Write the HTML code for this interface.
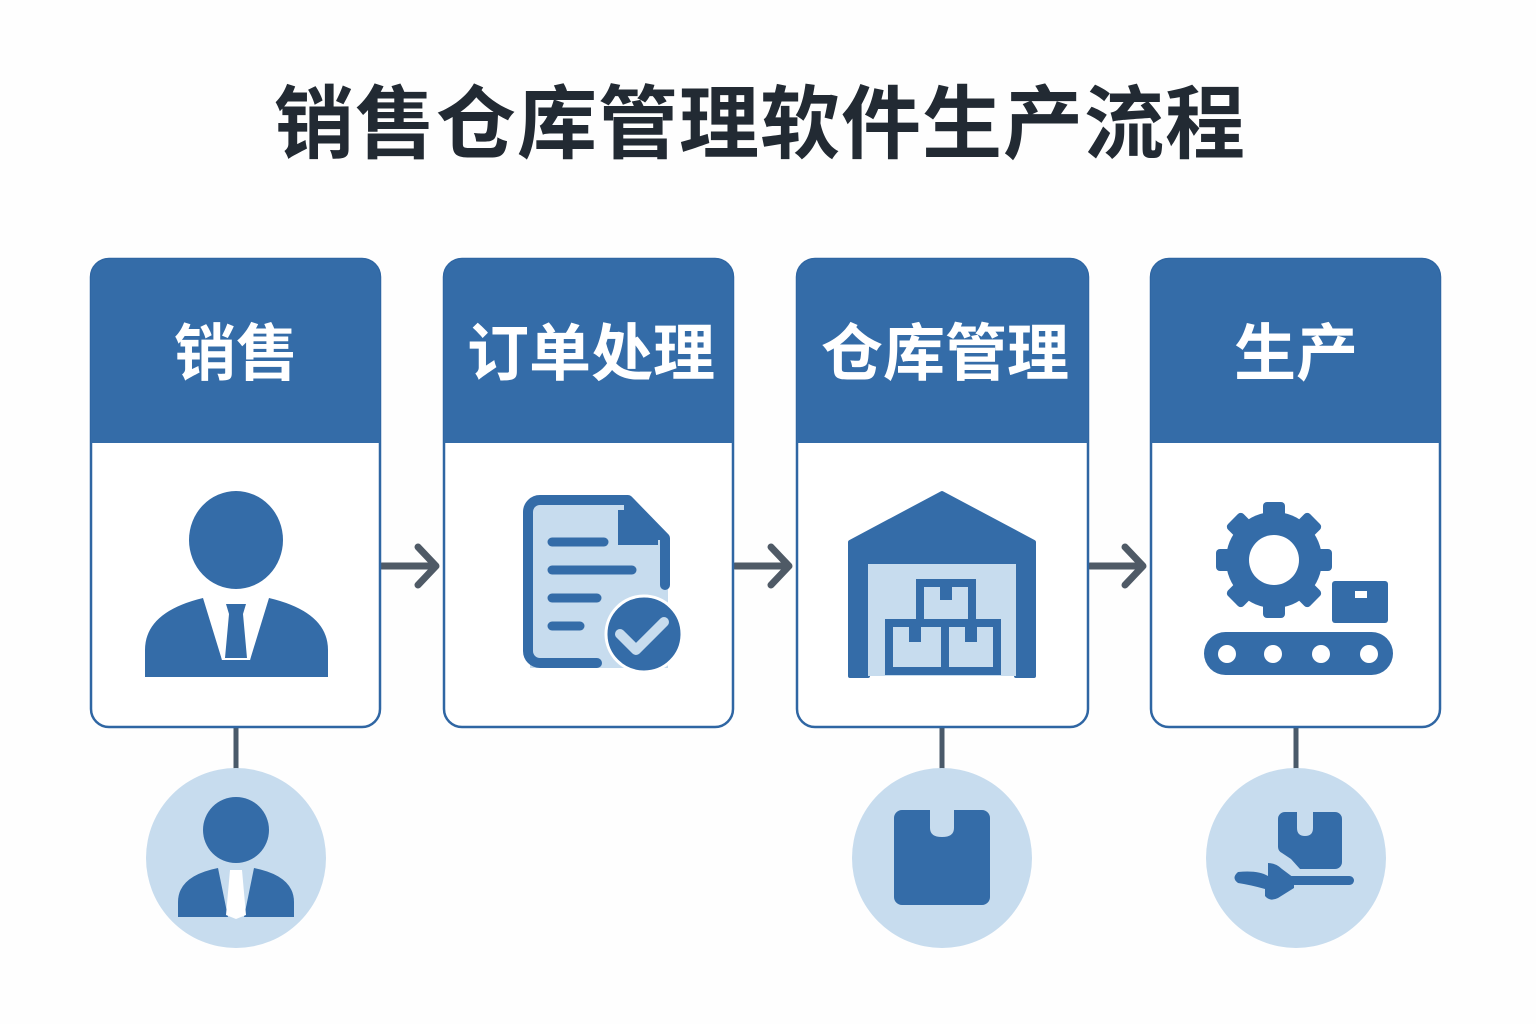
<!DOCTYPE html>
<html><head><meta charset="utf-8"><style>
html,body{margin:0;padding:0;background:#fff}
svg{display:block}
text{font-family:"Liberation Sans","Noto Sans CJK SC",sans-serif;font-weight:bold}
</style></head><body>
<svg width="1536" height="1024" viewBox="0 0 1536 1024" xmlns="http://www.w3.org/2000/svg">
<rect width="1536" height="1024" fill="#fefefe"/>
<text x="760" y="152" font-size="80" fill="#222a33" text-anchor="middle" letter-spacing="1">销售仓库管理软件生产流程</text>

<!-- connectors -->
<g stroke="#4a5a6a" stroke-width="5">
<line x1="236" y1="727" x2="236" y2="772"/>
<line x1="942" y1="727" x2="942" y2="772"/>
<line x1="1296" y1="727" x2="1296" y2="772"/>
</g>
<g stroke="#4f5a66" stroke-width="7" fill="none" stroke-linecap="round" stroke-linejoin="round">
<line x1="382" y1="566" x2="434" y2="566"/><polyline points="418,547 436,566 418,585"/>
<line x1="735" y1="566" x2="787" y2="566"/><polyline points="771,547 789,566 771,585"/>
<line x1="1090" y1="566" x2="1141" y2="566"/><polyline points="1125,547 1143,566 1125,585"/>
</g>

<!-- cards -->
<g>
<rect x="91" y="259" width="289" height="468" rx="18" fill="#fff" stroke="#2f66a3" stroke-width="2.5"/>
<path d="M91,443 V277 a18,18 0 0 1 18,-18 H362 a18,18 0 0 1 18,18 V443 Z" fill="#346ca8"/>
<text x="236" y="375" font-size="62" fill="#fff" text-anchor="middle">销售</text>

<rect x="444" y="259" width="289" height="468" rx="18" fill="#fff" stroke="#2f66a3" stroke-width="2.5"/>
<path d="M444,443 V277 a18,18 0 0 1 18,-18 H715 a18,18 0 0 1 18,18 V443 Z" fill="#346ca8"/>
<text x="591" y="375" font-size="62" fill="#fff" text-anchor="middle">订单处理</text>

<rect x="797" y="259" width="291" height="468" rx="18" fill="#fff" stroke="#2f66a3" stroke-width="2.5"/>
<path d="M797,443 V277 a18,18 0 0 1 18,-18 H1070 a18,18 0 0 1 18,18 V443 Z" fill="#346ca8"/>
<text x="945" y="375" font-size="62" fill="#fff" text-anchor="middle">仓库管理</text>

<rect x="1151" y="259" width="289" height="468" rx="18" fill="#fff" stroke="#2f66a3" stroke-width="2.5"/>
<path d="M1151,443 V277 a18,18 0 0 1 18,-18 H1422 a18,18 0 0 1 18,18 V443 Z" fill="#346ca8"/>
<text x="1296" y="375" font-size="62" fill="#fff" text-anchor="middle">生产</text>
</g>

<!-- person icon -->
<g fill="#346ca8">
<ellipse cx="236" cy="540" rx="47" ry="49"/>
<path d="M145,677 V650 q0,-38 58,-52 L222,660 L250,660 L269,598 q59,14 59,52 V677 Z"/>
<path d="M208,600 L222,660 L250,660 L264,600 L250,600 L242,605 L230,605 L222,600Z" fill="#fff"/>
<path d="M226,604 h20 l-3,10 l4,44 h-22 l4,-44z" fill="#346ca8"/>
</g>

<!-- document icon -->
<g>
<path d="M530,500 H632 L668,536 V668 H530 Z" fill="#c7dcee"/>
<path d="M623,510 V540 H658" fill="none" stroke="#346ca8" stroke-width="10"/>
<path d="M597,663 H540 a12,12 0 0 1 -12,-12 V512 a12,12 0 0 1 12,-12 H628 L665,538 V585" fill="none" stroke="#346ca8" stroke-width="10" stroke-linecap="round" stroke-linejoin="round"/>
<path d="M624,502 L665,540 L624,540 Z" fill="#346ca8"/>
<g stroke="#346ca8" stroke-width="9" stroke-linecap="round">
<line x1="552" y1="542" x2="604" y2="542"/>
<line x1="552" y1="570" x2="632" y2="570"/>
<line x1="552" y1="598" x2="597" y2="598"/>
<line x1="552" y1="626" x2="580" y2="626"/>
</g>
<circle cx="644" cy="634" r="38" fill="#346ca8" stroke="#fff" stroke-width="3"/>
<polyline points="620,634 636,650 664,622" fill="none" stroke="#c7dcee" stroke-width="10" stroke-linecap="round" stroke-linejoin="round"/>
</g>

<!-- warehouse -->
<g>
<path d="M850,676 V542 L942,493 L1034,542 V676 H1016 V564 H868 V676 Z" fill="#346ca8" stroke="#346ca8" stroke-width="4" stroke-linejoin="round"/>
<rect x="868" y="564" width="148" height="112" fill="#c7dcee"/>
<rect x="920" y="583" width="52" height="40" fill="#c7dcee" stroke="#346ca8" stroke-width="8"/>
<rect x="889" y="623" width="56" height="48" fill="#c7dcee" stroke="#346ca8" stroke-width="8"/>
<rect x="945" y="623" width="52" height="48" fill="#c7dcee" stroke="#346ca8" stroke-width="8"/>
<g fill="#346ca8"><rect x="940" y="586" width="12" height="14"/><rect x="909" y="626" width="12" height="16"/><rect x="965" y="626" width="12" height="16"/></g>
</g>

<!-- gear + conveyor -->
<g fill="#346ca8">
<g transform="translate(1274,560)">
<circle r="48"/>
<g>
<rect x="-11" y="-58" width="22" height="22" rx="4"/>
<rect x="-11" y="-58" width="22" height="22" rx="4" transform="rotate(45)"/>
<rect x="-11" y="-58" width="22" height="22" rx="4" transform="rotate(90)"/>
<rect x="-11" y="-58" width="22" height="22" rx="4" transform="rotate(135)"/>
<rect x="-11" y="-58" width="22" height="22" rx="4" transform="rotate(180)"/>
<rect x="-11" y="-58" width="22" height="22" rx="4" transform="rotate(225)"/>
<rect x="-11" y="-58" width="22" height="22" rx="4" transform="rotate(270)"/>
<rect x="-11" y="-58" width="22" height="22" rx="4" transform="rotate(315)"/>
</g>
<circle r="25" fill="#fff"/>
</g>
<rect x="1332" y="581" width="56" height="42" rx="3"/>
<rect x="1355" y="591" width="12" height="7" fill="#fff"/>
<rect x="1204" y="632" width="189" height="43" rx="21.5"/>
<g fill="#fff"><circle cx="1227" cy="654" r="9"/><circle cx="1273" cy="654" r="9"/><circle cx="1321" cy="654" r="9"/><circle cx="1369" cy="654" r="9"/></g>
</g>

<!-- circles -->
<circle cx="236" cy="858" r="90" fill="#c7dcee"/>
<circle cx="942" cy="858" r="90" fill="#c7dcee"/>
<circle cx="1296" cy="858" r="90" fill="#c7dcee"/>

<g fill="#346ca8">
<circle cx="236" cy="830" r="33"/>
<path d="M178,917 V902 q0,-26 40,-34 L228,917 Z"/>
<path d="M294,917 V902 q0,-26 -40,-34 L244,917 Z"/>
<path d="M230,870 h12 l4,45 l-10,4 l-10,-4 z" fill="#fff"/>
</g>

<g fill="#346ca8">
<path d="M902,810 H930 V828 q0,9 12,9 q12,0 12,-9 V810 H982 a8,8 0 0 1 8,8 V897 a8,8 0 0 1 -8,8 H902 a8,8 0 0 1 -8,-8 V818 a8,8 0 0 1 8,-8 Z"/>
</g>

<g fill="#346ca8">
<path d="M1285,812 H1297 V828 q0,8 8,8 q8,0 8,-8 V812 H1335 a7,7 0 0 1 7,7 V862 a7,7 0 0 1 -7,7 H1300 L1291,859 L1282,853 A7,7 0 0 1 1278,847 V819 a7,7 0 0 1 7,-7 Z"/>
<rect x="1284" y="876" width="70" height="9" rx="4.5"/>
<path d="M1238,872 q20,-2 30,4 l0,-13 q8,0 14,6 l12,9 v10 l-16,10 q-8,4 -13,-2 l0,-7 q-14,-4 -27,-6 q-7,-5 0,-11z"/>
</g>
</svg>
</body></html>
